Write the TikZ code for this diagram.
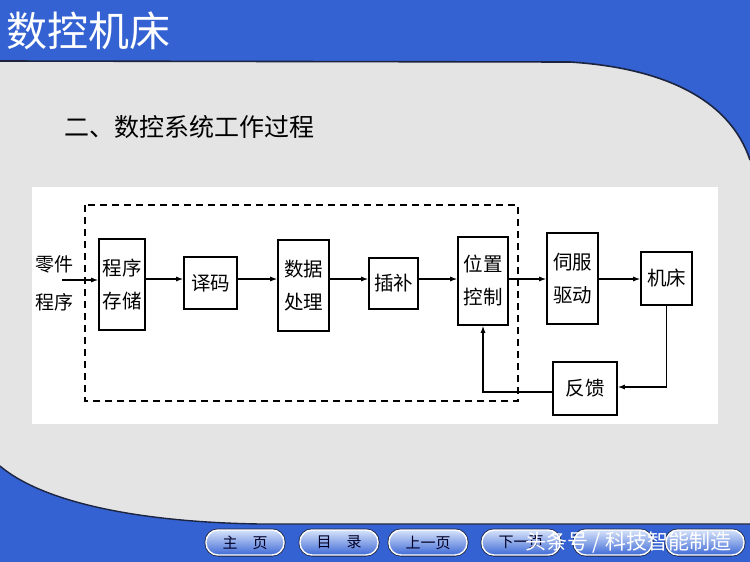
\documentclass[tikz,border=0pt]{standalone}
\usepackage{fontspec}
\setmainfont{Noto Sans CJK SC}
\usetikzlibrary{arrows.meta}
\definecolor{barblue}{HTML}{3562D2}
\definecolor{bggray}{HTML}{E4E4E4}
\definecolor{edgedark}{HTML}{1C2440}
\definecolor{btntop}{HTML}{D6E2FA}
\definecolor{btnbot}{HTML}{3E6AD6}
\tikzset{
  box/.style={draw=black, line width=1.6pt, inner sep=0pt, align=center,
    font=\fontsize{19.5}{33}\selectfont},
  arr/.style={-{Latex[length=7pt,width=5pt]}, line width=1.2pt},
  dashbox/.style={draw=black, line width=1.8pt, dash pattern=on 7pt off 5pt},
  btn/.style={rounded corners=12pt, draw=white, line width=1.4pt,
    preaction={draw=edgedark, line width=3pt},
    top color=btntop, bottom color=btnbot, minimum width=78pt,
    minimum height=25pt, inner sep=0pt, text=black!85!blue,
    font=\fontsize{15}{15}\selectfont},
  lbl/.style={inner sep=0pt, font=\fontsize{19}{19}\selectfont}
}
\begin{document}
\begin{tikzpicture}[x=1pt,y=-1pt]
\useasboundingbox (0,0) rectangle (750,562);
% background
\fill[barblue] (0,0) rectangle (750,562);
\fill[bggray] (0,61) -- (570,62) .. controls (665,68) and (730,100) .. (750,160)
  -- (750,524) -- (260,524) .. controls (130,522) and (40,500) .. (0,466) -- cycle;
\draw[edgedark, line width=1.6pt] (0,61) -- (570,62) .. controls (665,68) and (730,100) .. (750,160);
\draw[edgedark, line width=1.4pt] (750,524) -- (260,524) .. controls (130,522) and (40,500) .. (0,466);
% title
\node[anchor=west, inner sep=0pt, text=white, font=\fontsize{41}{41}\selectfont] (title) at (6,31) {数控机床};
\node[anchor=west, inner sep=0pt, text=black, font=\fontsize{25}{25}\selectfont] (sub) at (64,127) {二、数控系统工作过程};
% white panel
\fill[white] (32,187) rectangle (718,424);
% dashed boundary
\draw[dashbox] (85,205) rectangle (518,401);
% boxes
\node[box, minimum width=46pt, minimum height=91pt] (b1) at (122,284.5) {程序\\存储};
\node[box, minimum width=53pt, minimum height=52pt] (b2) at (210.5,283) {译码};
\node[box, minimum width=51pt, minimum height=91pt] (b3) at (303.5,285.5) {数据\\处理};
\node[box, minimum width=49pt, minimum height=51pt] (b4) at (393.5,283.5) {插补};
\node[box, minimum width=50pt, minimum height=88pt] (b5) at (483,281) {位置\\控制};
\node[box, minimum width=51pt, minimum height=91pt] (b6) at (572.5,278.5) {伺服\\驱动};
\node[box, minimum width=51pt, minimum height=53pt] (b7) at (666.5,278.5) {机床};
\node[box, minimum width=64pt, minimum height=53pt] (b8) at (585,388.5) {反馈};
% input
\node[lbl] (in1) at (54,264) {零件};
\node[lbl] (in2) at (54,302) {程序};
\coordinate (src) at (62,280);
% connectors
\draw[arr] (src) -- (b1.west|-src);
\draw[arr] (b1.east|-0,279) -- (b2.west|-0,279);
\draw[arr] (b2.east|-0,279) -- (b3.west|-0,279);
\draw[arr] (b3.east|-0,279) -- (b4.west|-0,279);
\draw[arr] (b4.east|-0,279) -- (b5.west|-0,279);
\draw[arr] (b5.east|-0,279) -- (b6.west|-0,279);
\draw[arr] (b6.east|-0,279) -- (b7.west|-0,279);
\draw[arr] (b7.south) |- (b8.east|-0,387);
\draw[arr] (b8.west|-0,392) -| (b5.south);
% buttons
\node[btn] (n1) at (245,542.5) {主\quad 页};
\node[btn] (n2) at (339,542.5) {目\quad 录};
\node[btn] (n3) at (428,542.5) {上一页};
\node[btn] (n4) at (521,542.5) {下一页};
\node[btn] (n5) at (613,542.5) {};
\node[btn] (n6) at (705,542.5) {};
% watermark
\node[anchor=west, inner sep=0pt, text=white, font=\fontsize{21}{21}\selectfont] (wm) at (525,543) {头条号 / 科技智能制造};
\end{tikzpicture}
\end{document}
